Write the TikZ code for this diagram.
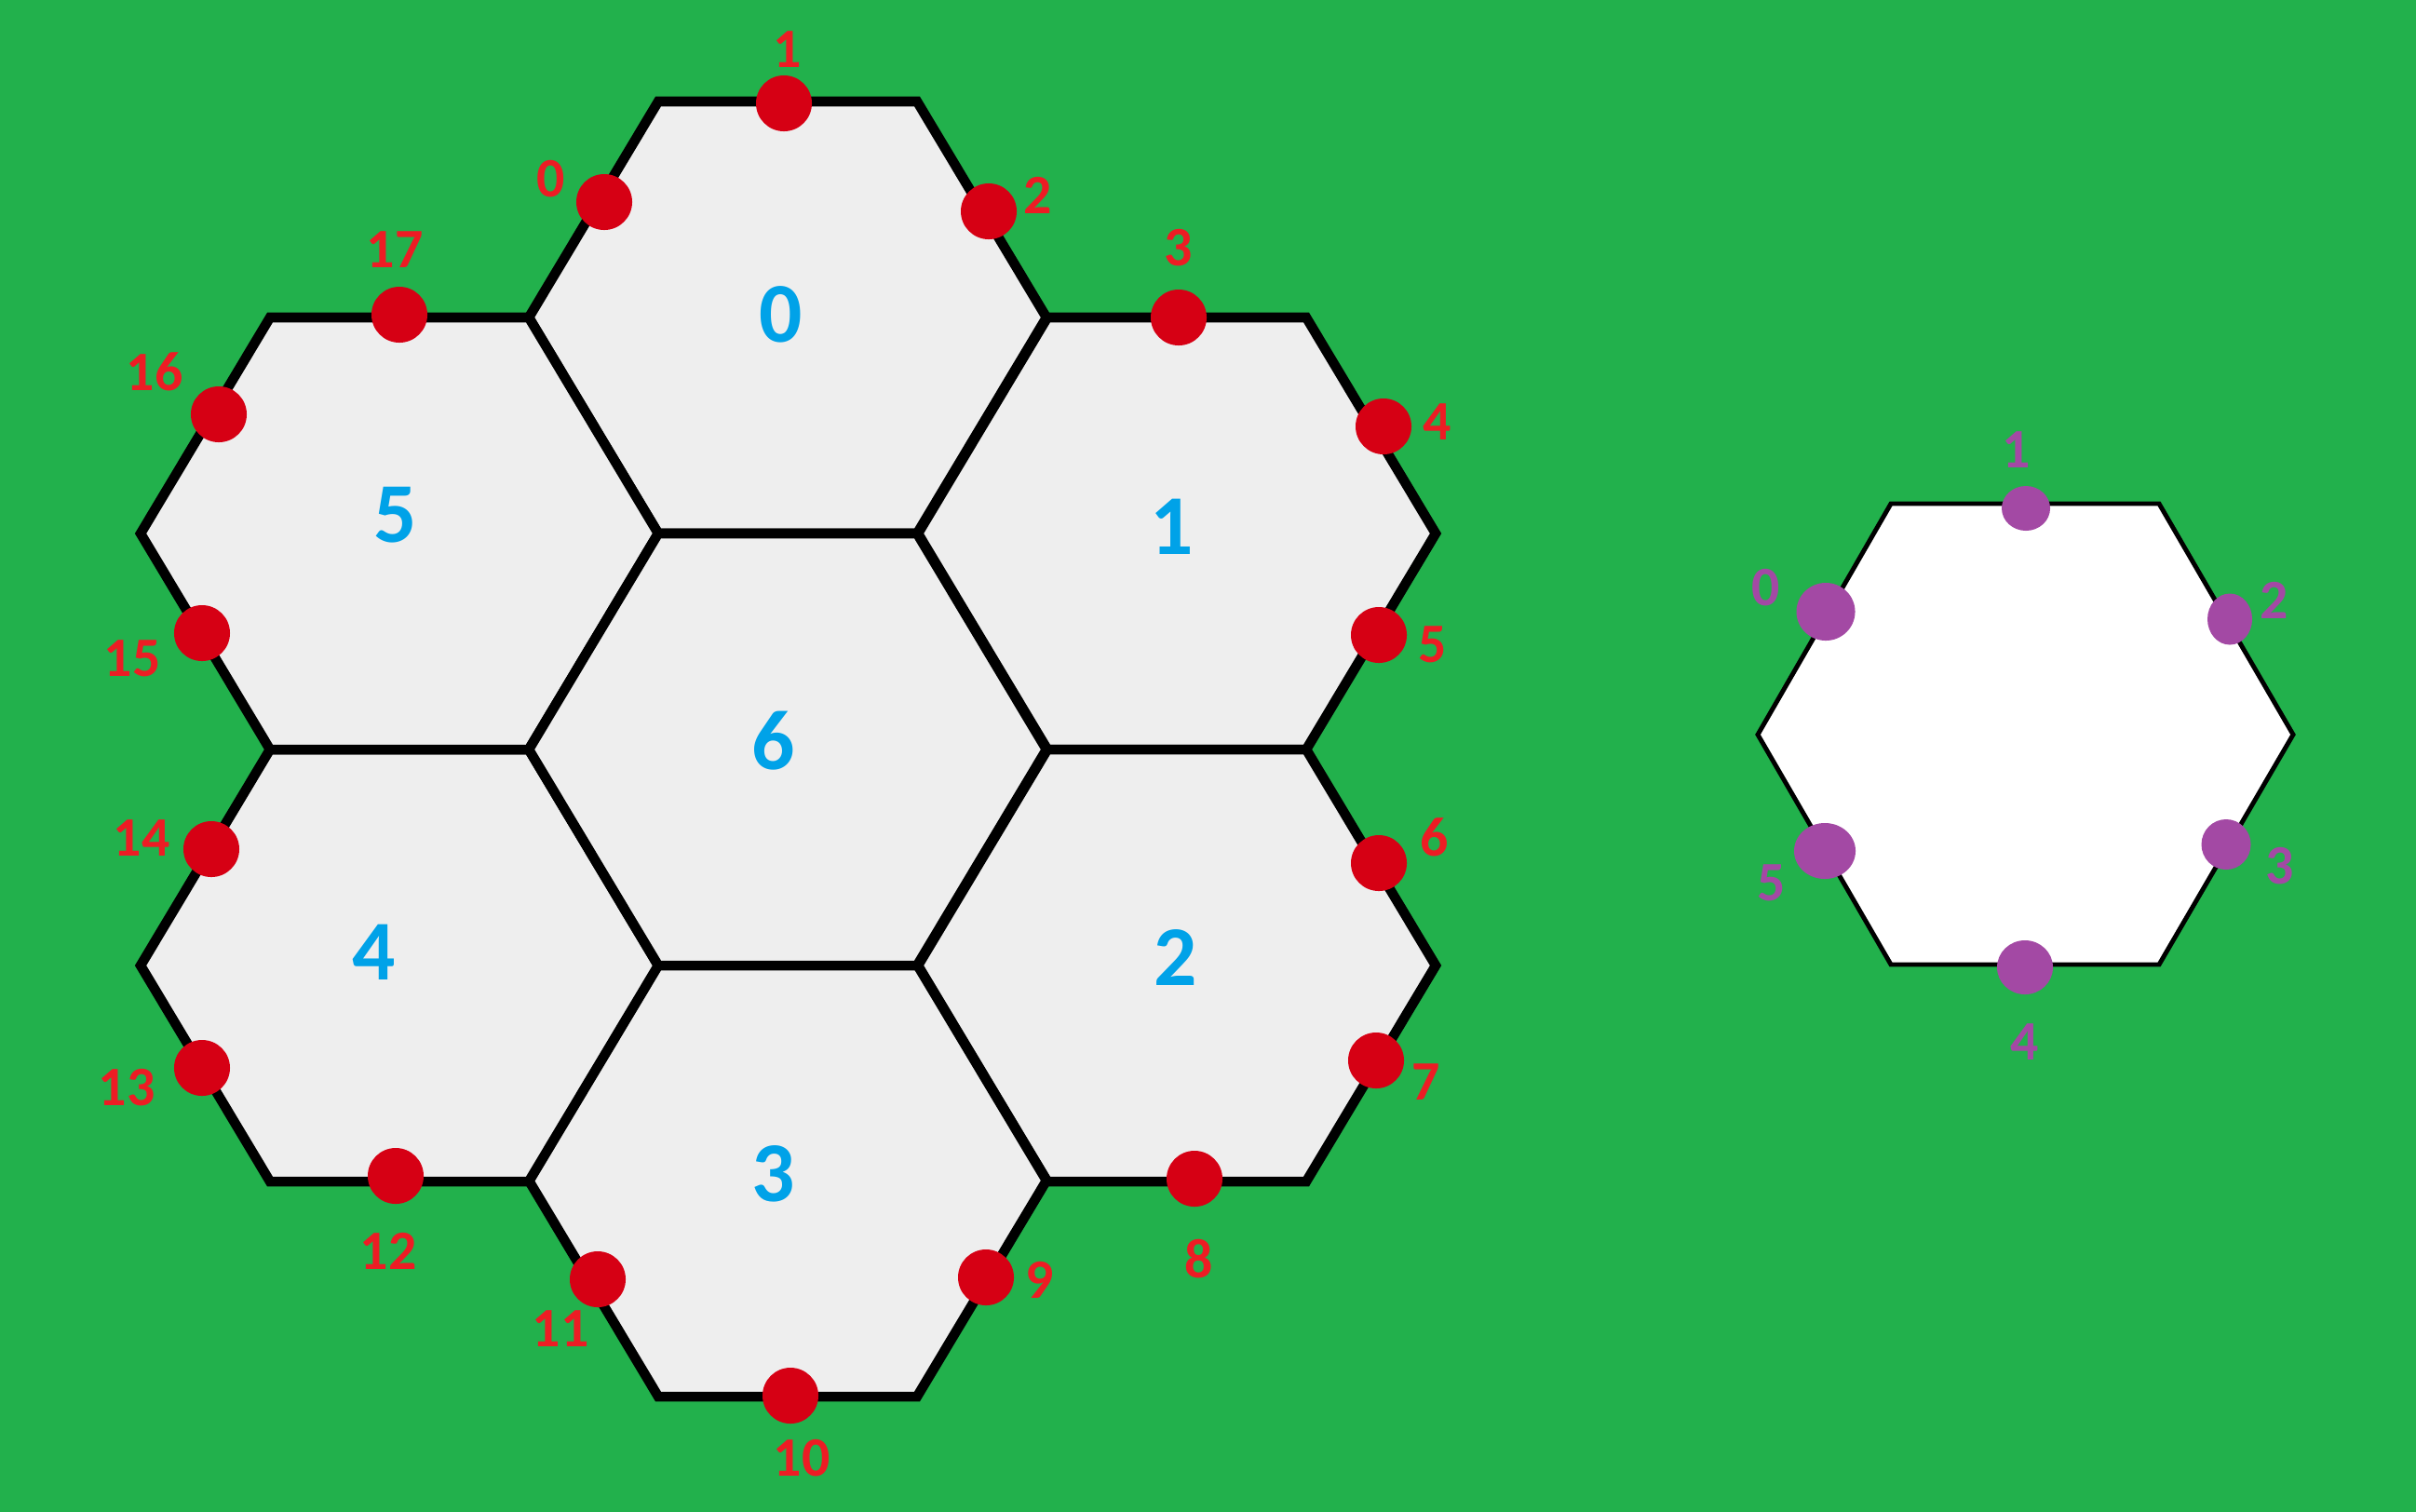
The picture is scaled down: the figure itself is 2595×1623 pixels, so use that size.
\documentclass[tikz,border=0pt]{standalone}
\usepackage{fontspec}
\setmainfont{Carlito}
\usetikzlibrary{shapes.geometric}
\definecolor{bggreen}{RGB}{34,177,76}
\definecolor{cellgray}{RGB}{238,238,238}
\definecolor{dotred}{RGB}{214,0,20}
\definecolor{labred}{RGB}{237,28,36}
\definecolor{cellblue}{RGB}{0,162,232}
\definecolor{plum}{RGB}{163,73,164}

\begin{document}
\begin{tikzpicture}[x=0.01cm, y=-0.01cm,
  hexcell/.style={draw=black, fill=cellgray, line width=3pt},
  sidehex/.style={draw=black, fill=white, line width=1.4pt},
  reddot/.style={circle, fill=dotred, inner sep=0pt, minimum size=0.6cm},
  redlabel/.style={text=labred, font=\fontsize{17}{20}\selectfont\bfseries, inner sep=0pt},
  cellnum/.style={text=cellblue, font=\fontsize{26}{30}\selectfont\bfseries, inner sep=0pt},
  plumdot/.style={ellipse, fill=plum, inner sep=0pt},
  plumlabel/.style={text=plum, font=\fontsize{17}{20}\selectfont\bfseries, inner sep=0pt}]
\useasboundingbox (0,0) rectangle (2595,1623);
\fill[bggreen] (-10,-10) rectangle (2605,1633);
% cluster of seven cells
\foreach \cx/\cy in {846/341, 1264/573, 1264/1037, 846/1268, 429/1037, 429/573, 846/805}
  \draw[hexcell] (\cx-278,\cy) -- (\cx-139,\cy-232) -- (\cx+139,\cy-232) -- (\cx+278,\cy)
    -- (\cx+139,\cy+232) -- (\cx-139,\cy+232) -- cycle;
\foreach \i/\x/\y in {0/839/338, 1/1259/566, 2/1263/1028, 3/831/1261, 4/402/1023, 5/425/553, 6/831/796}
  \node[cellnum] (c\i) at (\x,\y) {\i};
% outer edge points
\foreach \i/\x/\y/\lx/\ly in {0/649/217/592/192, 1/842/111/846/53, 2/1062/227/1115/210,
    3/1266/341/1266/266, 4/1486/458/1544/453, 5/1481/682/1539/692, 6/1481/927/1541/899,
    7/1478/1139/1532/1162, 8/1283/1266/1288/1352, 9/1059/1372/1117/1375,
    10/849/1499/861/1566, 11/642/1374/602/1427, 12/425/1263/417/1344,
    13/217/1147/136/1168, 14/227/912/152/900, 15/217/680/142/707,
    16/235/445/166/399, 17/429/338/424/268} {
  \node[reddot] (r\i) at (\x,\y) {};
  \node[redlabel] (rl\i) at (\lx,\ly) {\i};
}
% single cell on the right
\draw[sidehex] (1888,789) -- (2031,541) -- (2319,541) -- (2463,789) -- (2319,1036) -- (2031,1036) -- cycle;
\foreach \i/\x/\y/\w/\h/\lx/\ly in {0/1961/657/0.63/0.62/1897/631, 1/2176/546/0.52/0.48/2166/483,
    2/2395/665/0.48/0.55/2443/645, 3/2391/907/0.53/0.54/2449/930,
    4/2175/1039/0.60/0.58/2175/1119, 5/1960/914/0.66/0.60/1903/948} {
  \node[plumdot, minimum width=\w cm, minimum height=\h cm] (p\i) at (\x,\y) {};
  \node[plumlabel] (pl\i) at (\lx,\ly) {\i};
}
\end{tikzpicture}
\end{document}
